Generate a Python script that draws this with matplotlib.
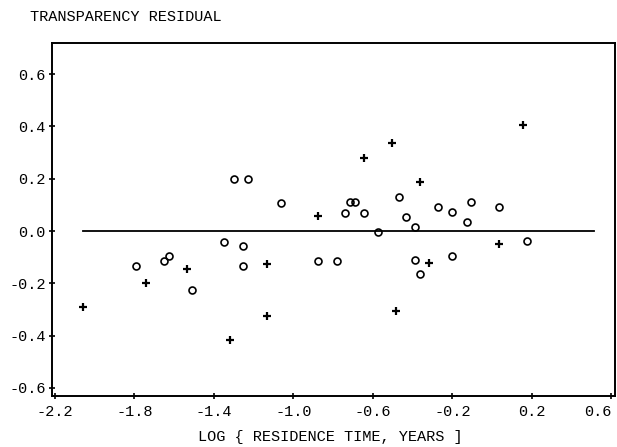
import matplotlib.pyplot as plt
import numpy as np

plt.rcParams['font.family'] = ['Liberation Mono', 'DejaVu Sans Mono']
plt.rcParams['axes.unicode_minus'] = False

# circles: (log residence time, transparency residual)
circle_x = [-1.794, -1.652, -1.626, -1.509, -1.348, -1.299, -1.230, -1.253, -1.253,
            -1.064, -0.878, -0.783, -0.741, -0.716, -0.691, -0.647, -0.573, -0.468,
            -0.435, -0.389, -0.389, -0.364, -0.271, -0.201, -0.201, -0.129, -0.107,
            0.035, 0.173]
circle_y = [-0.133, -0.115, -0.096, -0.224, -0.041, 0.199, 0.199, -0.058, -0.133,
            0.106, -0.114, -0.114, 0.070, 0.110, 0.110, 0.070, -0.003, 0.129,
            0.052, 0.014, -0.111, -0.166, 0.091, 0.074, -0.094, 0.036, 0.110,
            0.091, -0.038]

# crosses
plus_x = [-2.058, -1.744, -1.534, -1.319, -1.135, -1.135, -0.875, -0.644, -0.503,
          -0.486, -0.364, -0.317, 0.035, 0.153]
plus_y = [-0.289, -0.200, -0.145, -0.417, -0.127, -0.324, 0.057, 0.280, 0.335,
          -0.306, 0.189, -0.121, -0.050, 0.405]

zero_line_x = [-2.06, 0.51]
zero_line_y = [0.0, 0.0]

x_ticks = [-2.2, -1.8, -1.4, -1.0, -0.6, -0.2, 0.2, 0.6]
y_ticks = [-0.6, -0.4, -0.2, 0.0, 0.2, 0.4, 0.6]

fig = plt.figure(figsize=(6.17, 4.47), dpi=100)
ax = fig.add_axes([0.0843, 0.1141, 0.9125, 0.7897])

ax.plot(zero_line_x, zero_line_y, color='black', lw=1.3)
ax.plot(circle_x, circle_y, linestyle='none', marker='o', ms=5, mfc='none',
        mec='black', mew=1.2)
ax.plot(plus_x, plus_y, linestyle='none', marker='+', ms=6, mec='black', mew=1.6)

ax.set_xlim(-2.215, 0.618)
ax.set_ylim(-0.631, 0.719)
ax.set_xticks(x_ticks)
ax.set_yticks(y_ticks)
ax.set_xticklabels([f'{v:.1f}' for v in x_ticks])
ax.set_yticklabels([f'{v:.1f}' for v in y_ticks])
ax.tick_params(direction='inout', length=5, width=1.2, labelsize=11)
ax.tick_params(axis='y', pad=2)
ax.tick_params(axis='x', pad=4)
# last x label sits against the figure edge
ax.get_xticklabels()[-1].set_horizontalalignment('right')

for side in ['left', 'bottom', 'top', 'right']:
    ax.spines[side].set_linewidth(1.4)

fig.text(0.049, 0.962, 'TRANSPARENCY RESIDUAL', fontsize=11, ha='left', va='center')
fig.text(0.536, 0.022, 'LOG { RESIDENCE TIME, YEARS ]', fontsize=11, ha='center',
         va='center')

fig.savefig('out.png', dpi=100)
